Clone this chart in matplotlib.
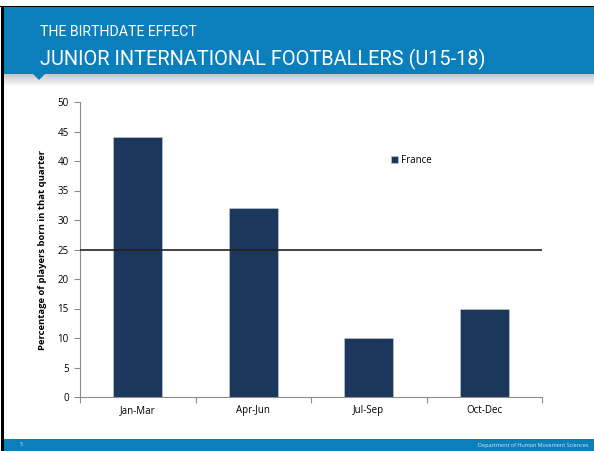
import matplotlib
matplotlib.use("Agg")
import matplotlib.pyplot as plt
from matplotlib.patches import Rectangle, Polygon
import numpy as np

quarters = ["Jan-Mar", "Apr-Jun", "Jul-Sep", "Oct-Dec"]
france = [44, 32, 10, 15]
expected = 25
series_name = "France"
title_small = "THE BIRTHDATE EFFECT"
title_big = "JUNIOR INTERNATIONAL FOOTBALLERS (U15-18)"
ylabel = "Percentage of players born in that quarter"
footer_left = "5"
footer_right = "Department of Human Movement Sciences"

W, H = 594, 451
BLUE = "#0a7fbc"
NAVY = "#1c375c"
body_font = ["Open Sans", "DejaVu Sans"]
head_font = ["Roboto", "DejaVu Sans"]

fig = plt.figure(figsize=(W / 100, H / 100), dpi=100)
fig.patch.set_facecolor("white")

def fx(px):
    return px / W

def fy(py):
    return 1 - py / H

# slide frame: header band, shadow, pointer notch, footer band, borders
fig.patches.append(Rectangle((fx(3), fy(74)), fx(591), 67 / H, transform=fig.transFigure,
                             facecolor=BLUE, edgecolor="none", zorder=1))
for i in range(12):
    a = 0.22 * (1 - i / 12)
    fig.patches.append(Rectangle((fx(3), fy(75 + i)), fx(591), 1 / H, transform=fig.transFigure,
                                 facecolor="black", alpha=a, edgecolor="none", zorder=0))
fig.patches.append(Polygon([(fx(33), fy(74)), (fx(45), fy(74)), (fx(39), fy(80))],
                           closed=True, transform=fig.transFigure, facecolor=BLUE,
                           edgecolor="none", zorder=2))
fig.patches.append(Rectangle((fx(3), 0), fx(591), 12 / H, transform=fig.transFigure,
                             facecolor=BLUE, edgecolor="none", zorder=1))
fig.patches.append(Rectangle((fx(0), fy(7)), fx(594), 1.5 / H, transform=fig.transFigure,
                             facecolor="black", edgecolor="none", zorder=3))
fig.patches.append(Rectangle((fx(1), 0), fx(3), fy(6), transform=fig.transFigure,
                             facecolor="black", edgecolor="none", zorder=3))

fig.text(fx(40), fy(32), title_small, color="white", fontsize=10.2, family=head_font,
         va="center", ha="left")
fig.text(fx(40), fy(59), title_big, color="white", fontsize=14.4, family=head_font,
         va="center", ha="left")
fig.text(fx(20), fy(445), footer_left, color="#d8e8f3", fontsize=4, family=body_font,
         va="center", ha="left")
fig.text(fx(588), fy(445), footer_right, color="#d8e8f3", fontsize=4, family=body_font,
         va="center", ha="right")

ax = fig.add_axes([fx(80), fy(397), fx(542 - 80), (397 - 102) / H])
x = np.arange(len(quarters))
ax.bar(x, france, width=0.42, color=NAVY, edgecolor="#c9ced6", linewidth=0.4,
       label=series_name, zorder=2)
ax.axhline(expected, color="#222222", linewidth=1.2, zorder=3)

ax.set_xlim(-0.5, len(quarters) - 0.5)
ax.set_ylim(0, 50)
ax.set_yticks(range(0, 51, 5))
ax.set_xticks(x)
ax.set_xticklabels(quarters, family=body_font, fontsize=7)
ax.set_xticks(np.arange(-0.5, len(quarters), 1), minor=True)
ax.tick_params(axis="x", which="major", length=0, pad=6)
ax.tick_params(axis="x", which="minor", length=4, color="#8c8c8c", width=0.8)
ax.tick_params(axis="y", length=4, color="#8c8c8c", width=0.8, labelsize=7, pad=4)
for lab in ax.get_yticklabels():
    lab.set_family(body_font)
for side in ("top", "right"):
    ax.spines[side].set_visible(False)
for side in ("left", "bottom"):
    ax.spines[side].set_color("#8c8c8c")
    ax.spines[side].set_linewidth(0.8)

ax.set_ylabel(ylabel, family=body_font, fontsize=6.8, fontweight="bold", labelpad=8)

leg = ax.legend(loc="upper left", bbox_to_anchor=(0.655, 0.85), frameon=False,
                prop={"family": body_font, "size": 7}, handlelength=0.7,
                handleheight=0.7, handletextpad=0.3)

fig.savefig("out.png", dpi=100, facecolor="white")
